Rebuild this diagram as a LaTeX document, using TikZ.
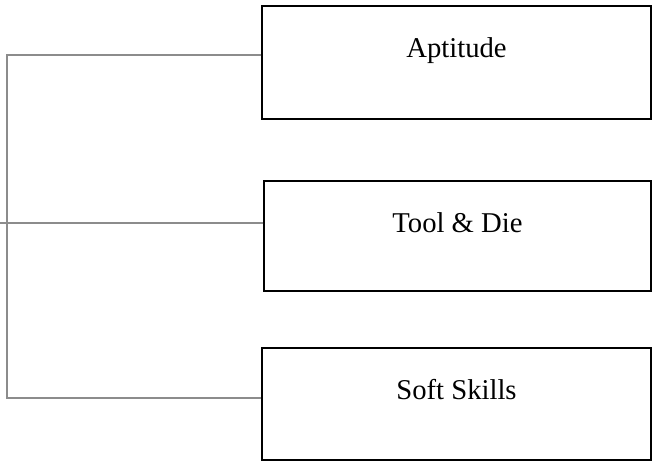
\documentclass[tikz,border=0pt]{standalone}
\usepackage{fontspec}
\setmainfont{Liberation Serif}
\usetikzlibrary{positioning}

\begin{document}
\begin{tikzpicture}[x=0.75pt,y=-0.75pt,box/.style={draw=black,line width=1.1pt,fill=white,inner sep=0pt,font=\fontsize{21.5}{25}\selectfont},link/.style={draw=black!45,line width=0.8pt}]
\useasboundingbox (0,0) rectangle (653,463);
\node[box,minimum width=389*0.75pt,text height=38.5pt,text depth=46pt] (apt) at (456.5,62.5) {Aptitude};
\node[box,minimum width=387*0.75pt,text height=38.5pt,text depth=44pt] (tool) at (457.5,236) {Tool \& Die};
\node[box,minimum width=389*0.75pt,text height=38.5pt,text depth=45.5pt] (soft) at (456.5,404) {Soft Skills};
\coordinate (top) at (7,55);
\coordinate (bot) at (7,398);
\coordinate (midend) at (0,223);
\draw[link] (apt.west |- top) -- (top) -- (bot) -- (soft.west |- bot);
\draw[link] (tool.west |- midend) -- (midend);
\end{tikzpicture}
\end{document}
